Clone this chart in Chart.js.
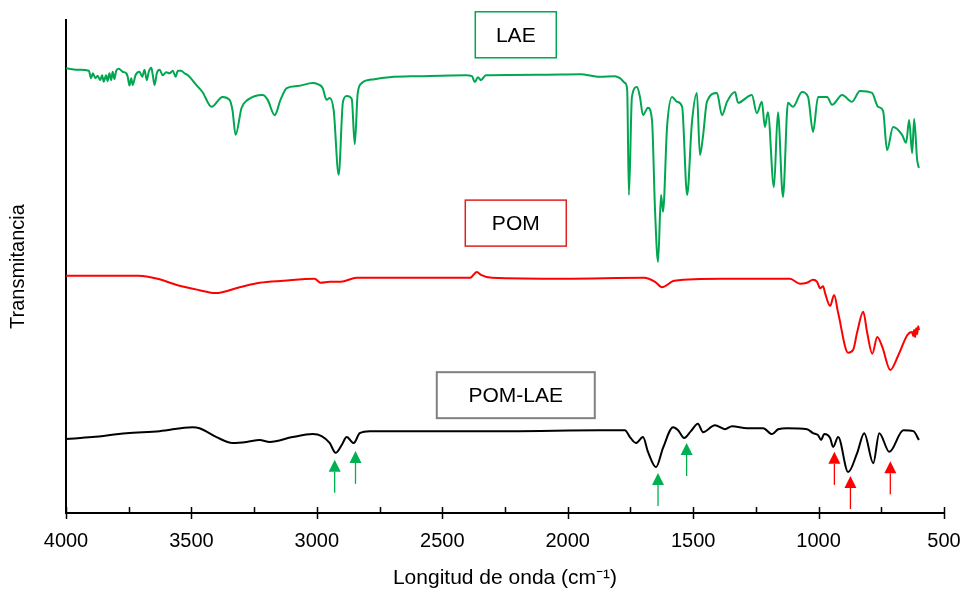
<!DOCTYPE html>
<html lang="es">
<head>
<meta charset="utf-8">
<title>Espectros FTIR</title>
<script src="https://cdn.jsdelivr.net/npm/chart.js@4.4.1/dist/chart.umd.min.js"></script>
<style>
  html, body { margin: 0; padding: 0; background: #fff; }
  #wrap { width: 964px; height: 594px; }
</style>
</head>
<body>
<div id="wrap"><canvas id="ftirChart" width="964" height="594"></canvas></div>
<script>
// Wavenumbers (cm-1) and transmittance (arbitrary units, stacked) for each spectrum
const laeWave = [4000, 3947, 3909, 3900, 3893, 3883, 3874, 3864, 3856, 3850, 3840, 3834, 3827, 3820, 3814, 3807,
  3800, 3790, 3774, 3760, 3754, 3747, 3740, 3734, 3723, 3707, 3696, 3687, 3678, 3670, 3660, 3654, 3647, 3638,
  3627, 3614, 3601, 3587, 3574, 3563, 3554, 3541, 3528, 3514, 3480, 3456, 3420, 3376, 3348, 3336, 3324, 3300,
  3276, 3216, 3196, 3168, 3145, 3120, 3077, 3016, 2997, 2977, 2961, 2949, 2933, 2913, 2896, 2881, 2861, 2849,
  2837, 2821, 2770, 2710, 2590, 2406, 2382, 2370, 2358, 2346, 2326, 2111, 1951, 1872, 1812, 1792, 1771, 1763,
  1756, 1744, 1724, 1712, 1700, 1680, 1664, 1652, 1640, 1628, 1620, 1604, 1584, 1564, 1544, 1524, 1505, 1485,
  1473, 1461, 1445, 1405, 1385, 1365, 1333, 1321, 1266, 1246, 1226, 1214, 1202, 1178, 1162, 1142, 1122, 1102,
  1066, 1042, 1022, 1002, 966, 946, 906, 867, 835, 787, 763, 743, 727, 703, 667, 651, 639, 627, 619, 607, 600];
const laeT = [90.2, 89.9, 89.7, 88.2, 89.2, 88.2, 88.7, 87.8, 88.8, 87.5, 88.8, 87.6, 89.2, 87.8, 89.5, 88.0,
  89.7, 90.1, 89.5, 89.2, 88.5, 86.7, 88.2, 86.8, 88.8, 89.5, 88.5, 89.9, 87.8, 89.5, 90.3, 88.8, 86.8, 89.2,
  89.9, 88.8, 89.4, 89.2, 89.7, 88.5, 89.7, 89.7, 89.2, 88.8, 86.8, 85.4, 82.4, 84.4, 83.8, 81.6, 76.7, 82.2,
  83.8, 84.8, 83.8, 80.7, 83.8, 86.2, 86.6, 87.2, 87.0, 86.2, 83.8, 84.2, 81.7, 68.6, 83.4, 84.6, 84.0, 74.8,
  85.2, 87.2, 88.0, 88.4, 88.6, 88.8, 88.6, 87.4, 88.4, 87.8, 88.8, 88.9, 89.0, 88.5, 88.6, 88.2, 87.2, 85.8,
  64.5, 84.4, 86.4, 84.4, 80.7, 82.2, 79.7, 61.5, 50.9, 64.5, 61.1, 78.3, 84.4, 83.4, 82.4, 64.5, 79.1, 85.2,
  72.6, 76.3, 83.4, 85.2, 80.7, 83.4, 85.4, 83.2, 84.8, 81.1, 83.4, 78.3, 81.3, 66.1, 81.3, 64.1, 83.2, 82.4,
  85.4, 84.4, 77.3, 84.4, 84.4, 82.8, 84.8, 83.4, 85.6, 85.2, 82.4, 81.6, 73.6, 78.3, 76.7, 75.1, 79.7, 73.0,
  79.9, 71.6, 70.0];

const pomWave = [4000, 3711, 3635, 3555, 3468, 3404, 3308, 3228, 3133, 3009, 2985, 2949, 2905, 2841, 2670, 2390,
  2362, 2346, 2302, 2011, 1696, 1652, 1624, 1575, 1385, 1114, 1074, 1046, 1022, 1006, 994, 982, 974, 954, 938,
  922, 882, 862, 846, 822, 806, 786, 766, 746, 714, 682, 646, 627, 623, 619, 615, 611, 607, 603, 600];
const pomT = [48.1, 48.1, 47.5, 46.2, 45.2, 44.6, 45.8, 46.7, 47.1, 47.5, 46.7, 46.9, 46.9, 47.7, 47.7, 47.7,
  48.9, 48.3, 47.7, 47.5, 47.7, 46.9, 45.8, 47.1, 47.5, 47.5, 46.5, 46.7, 47.3, 46.9, 45.6, 46.0, 44.6, 42.0, 44.2,
  40.6, 32.5, 33.1, 36.7, 40.8, 36.5, 32.3, 35.7, 33.7, 29.0, 32.0, 36.1, 36.7, 35.9, 37.1, 35.7, 37.5, 36.3,
  37.9, 37.1];

const mixWave = [4000, 3895, 3759, 3627, 3496, 3468, 3400, 3336, 3280, 3228, 3188, 3097, 3017, 2981, 2949, 2925,
  2901, 2881, 2853, 2829, 2789, 2231, 1872, 1772, 1752, 1728, 1700, 1680, 1648, 1620, 1580, 1560, 1536, 1509,
  1481, 1461, 1413, 1373, 1345, 1285, 1221, 1185, 1161, 1125, 1046, 1022, 1002, 990, 978, 954, 942, 922, 882,
  846, 818, 782, 758, 718, 662, 622, 600];
const mixT = [15.0, 15.4, 16.2, 16.6, 17.4, 17.2, 15.4, 14.2, 14.4, 14.8, 14.4, 15.4, 16.0, 15.6, 14.2, 12.2,
  13.8, 15.4, 14.2, 16.2, 16.6, 16.6, 16.8, 16.8, 15.4, 14.2, 15.4, 12.4, 9.3, 13.2, 17.4, 16.8, 15.2, 16.6,
  18.1, 16.4, 17.8, 17.0, 17.6, 17.2, 17.2, 16.0, 17.0, 17.2, 17.0, 16.2, 15.8, 14.8, 16.0, 15.2, 13.4, 15.4, 8.3,
  12.2, 16.2, 10.1, 16.2, 12.4, 16.8, 16.6, 14.8];

// Bands marked on the POM-LAE spectrum and which component they come from
const markedWave = [2929, 2846, 1640, 1526, 937, 873, 714];
const markedFrom = ['LAE', 'LAE', 'LAE', 'LAE', 'POM', 'POM', 'POM'];

const seriesNames = ['LAE', 'POM', 'POM-LAE'];

const lineColors = { 'LAE': '#00a650', 'POM': '#ff0000', 'POM-LAE': '#000000' };
const arrowColors = { 'LAE': '#00b050', 'POM': '#ff0000' };
const fontFamily = '"Liberation Sans", Arial, sans-serif';

function toPoints(wave, values) {
  return wave.map((w, i) => ({ x: w, y: values[i] }));
}

// Inward minor and major tick marks on the wavenumber axis
const axisTicks = {
  id: 'axisTicks',
  afterDraw(chart) {
    const ctx = chart.ctx;
    const xs = chart.scales.x;
    const y0 = chart.chartArea.bottom;
    const step = xs.options.ticks.stepSize;
    ctx.save();
    ctx.strokeStyle = '#000';
    ctx.lineWidth = 1.5;
    ctx.beginPath();
    for (let w = xs.min; w <= xs.max; w += step / 2) {
      const px = Math.round(xs.getPixelForValue(w)) + 0.5;
      const major = (w - xs.min) % step === 0;
      ctx.moveTo(px, y0 - 6);
      ctx.lineTo(px, major ? y0 + 6 : y0);
    }
    ctx.stroke();
    ctx.restore();
  }
};

// Boxed spectrum names
const nameBoxes = {
  id: 'nameBoxes',
  afterDatasetsDraw(chart, args, opts) {
    const ctx = chart.ctx;
    const xs = chart.scales.x, ys = chart.scales.y;
    const cx = xs.getPixelForValue(opts.x);
    ctx.save();
    ctx.font = opts.font;
    ctx.textAlign = 'center';
    ctx.textBaseline = 'middle';
    opts.items.forEach(item => {
      const cy = ys.getPixelForValue(item.y);
      ctx.fillStyle = '#fff';
      ctx.fillRect(cx - item.w / 2, cy - opts.h / 2, item.w, opts.h);
      ctx.strokeStyle = item.border;
      ctx.lineWidth = item.lw;
      ctx.strokeRect(cx - item.w / 2, cy - opts.h / 2, item.w, opts.h);
      ctx.fillStyle = '#000';
      ctx.fillText(item.text, cx, cy + 1);
    });
    ctx.restore();
  }
};

// Arrows pointing up at the marked bands
const bandArrows = {
  id: 'bandArrows',
  afterDatasetsDraw(chart, args, opts) {
    const ctx = chart.ctx;
    const xs = chart.scales.x, ys = chart.scales.y;
    ctx.save();
    markedWave.forEach((w, i) => {
      const color = arrowColors[markedFrom[i]];
      const px = xs.getPixelForValue(w);
      const tip = ys.getPixelForValue(opts.tips[i]);
      const tail = tip + opts.length;
      ctx.strokeStyle = color;
      ctx.lineWidth = 1.3;
      ctx.beginPath();
      ctx.moveTo(px, tip + opts.head);
      ctx.lineTo(px, tail);
      ctx.stroke();
      ctx.fillStyle = color;
      ctx.beginPath();
      ctx.moveTo(px, tip);
      ctx.lineTo(px - opts.head / 2, tip + opts.head);
      ctx.lineTo(px + opts.head / 2, tip + opts.head);
      ctx.closePath();
      ctx.fill();
    });
    ctx.restore();
  }
};

const spectra = [
  { name: seriesNames[0], data: toPoints(laeWave, laeT) },
  { name: seriesNames[1], data: toPoints(pomWave, pomT) },
  { name: seriesNames[2], data: toPoints(mixWave, mixT) }
];

new Chart(document.getElementById('ftirChart'), {
  type: 'line',
  data: {
    datasets: spectra.map(s => ({
      label: s.name,
      data: s.data,
      borderColor: lineColors[s.name],
      borderWidth: 2,
      pointRadius: 0,
      cubicInterpolationMode: 'monotone',
      fill: false
    }))
  },
  options: {
    responsive: false,
    animation: false,
    layout: { padding: { top: 20, right: 20, left: 0, bottom: 0 } },
    plugins: {
      legend: { display: false },
      tooltip: { enabled: false },
      nameBoxes: {
        x: 2207,
        h: 46,
        font: '21px ' + fontFamily,
        items: [
          { text: 'LAE', y: 97.0, w: 81, border: '#00a650', lw: 1.5 },
          { text: 'POM', y: 58.8, w: 101, border: '#e02020', lw: 1.5 },
          { text: 'POM-LAE', y: 23.9, w: 158, border: '#808080', lw: 2 }
        ]
      },
      bandArrows: {
        tips: [10.8, 12.6, 8.1, 14.2, 12.4, 7.5, 10.5],
        length: 33,
        head: 12
      }
    },
    scales: {
      x: {
        type: 'linear',
        reverse: true,
        min: 500,
        max: 4000,
        grid: { display: false },
        border: { display: true, color: '#000', width: 2 },
        ticks: {
          stepSize: 500,
          padding: 8,
          color: '#000',
          font: { family: fontFamily, size: 20 },
          callback: v => String(v)
        },
        title: {
          display: true,
          text: 'Longitud de onda (cm⁻¹)',
          color: '#000',
          padding: { top: 0, bottom: 3 },
          font: { family: fontFamily, size: 21 }
        },
        afterFit(scale) {
          scale.height = 81;
          scale.paddingLeft = 0;
          scale.paddingRight = 0;
        }
      },
      y: {
        min: 0,
        max: 100,
        grid: { display: false },
        border: { display: true, color: '#000', width: 2 },
        ticks: { display: false },
        title: {
          display: true,
          text: 'Transmitancia',
          color: '#000',
          padding: { top: 6, bottom: 0 },
          font: { family: fontFamily, size: 20 }
        },
        afterFit(scale) { scale.width = 66; }
      }
    }
  },
  plugins: [axisTicks, nameBoxes, bandArrows]
});
</script>
</body>
</html>
